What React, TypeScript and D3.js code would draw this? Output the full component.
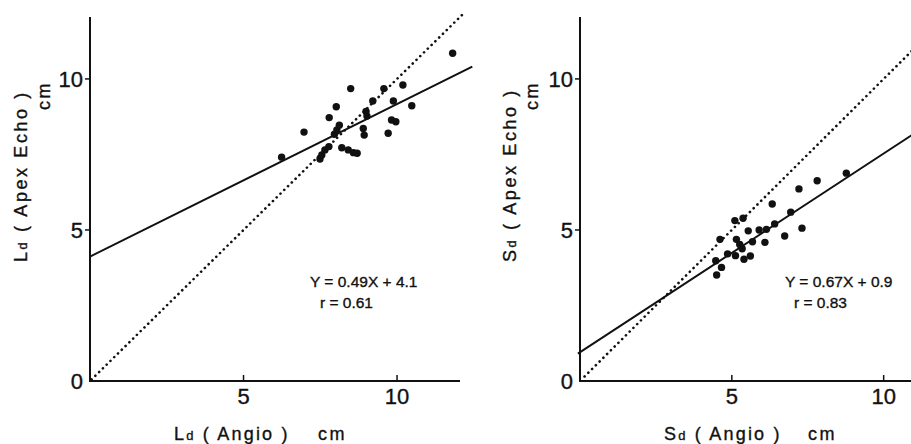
import React from "react";
import * as d3 from "d3";

// ---- Data ----
const leftPoints: [number, number][] = [
  [6.24, 7.41], [6.97, 8.24], [7.49, 7.35], [7.55, 7.48], [7.65, 7.65],
  [7.78, 7.76], [7.79, 8.72], [8.02, 9.08], [7.96, 8.17], [8.04, 8.31],
  [8.12, 8.47], [8.2, 7.72], [8.41, 7.65], [8.58, 7.56], [8.7, 7.54],
  [8.49, 9.68], [8.9, 8.36], [8.93, 8.14], [8.99, 8.92], [9.02, 8.77],
  [9.21, 9.27], [9.57, 9.68], [9.71, 8.2], [9.82, 8.64], [9.96, 8.58],
  [9.88, 9.27], [10.19, 9.8], [10.48, 9.11], [11.81, 10.85],
];
const rightPoints: [number, number][] = [
  [4.47, 3.98], [4.5, 3.51], [4.61, 4.69], [4.66, 3.76], [4.86, 4.21],
  [5.1, 5.31], [5.12, 4.15], [5.15, 4.69], [5.26, 4.52], [5.34, 4.38],
  [5.37, 5.39], [5.4, 4.03], [5.54, 4.97], [5.61, 4.14], [5.68, 4.61],
  [5.9, 5.0], [6.09, 4.59], [6.14, 5.02], [6.33, 5.86], [6.41, 5.2],
  [6.74, 4.8], [6.94, 5.59], [7.21, 6.36], [7.31, 5.06], [7.81, 6.63],
  [8.77, 6.88],
];
// regression lines as drawn: [x0, x1, slope, intercept]
const leftFit = { x0: 0, x1: 12.45, slope: 0.505, intercept: 4.12 };
const rightFit = { x0: -0.07, x1: 11.2, slope: 0.658, intercept: 0.95 };
const leftIdentity = { x0: 0.05, x1: 12.2 };
const rightIdentity = { x0: 0.15, x1: 11.2 };
const yTicks = [0, 5, 10];
const xTicks = [5, 10];
const leftEq = ["Y = 0.49X + 4.1", "r = 0.61"];
const rightEq = ["Y = 0.67X + 0.9", "r = 0.83"];

const W = 911;
const H = 444;
const INK = "#111";
const FONT = "'Liberation Sans', Arial, sans-serif";
const NARROW = "'Liberation Sans Narrow', 'Arial Narrow', 'Liberation Sans', sans-serif";

type PanelProps = {
  points: [number, number][];
  fit: { x0: number; x1: number; slope: number; intercept: number };
  ident: { x0: number; x1: number };
  xRange: [number, number];
  xMax: number;
  eq: string[];
  eqPos: [number, number][];
  letter: string;
  yLabelX: number;
  cmX: number;
};

const textInk = { fill: INK, stroke: INK, strokeWidth: 0.35 };

function Panel(p: PanelProps) {
  const x = d3.scaleLinear().domain([0, p.xMax]).range(p.xRange);
  const y = d3.scaleLinear().domain([0, 12.05]).range([381, 17]);
  const line = d3.line<[number, number]>().x((d) => x(d[0])).y((d) => y(d[1]));
  const fitPts: [number, number][] = [
    [p.fit.x0, p.fit.intercept + p.fit.slope * p.fit.x0],
    [p.fit.x1, p.fit.intercept + p.fit.slope * p.fit.x1],
  ];
  const idPts: [number, number][] = [
    [p.ident.x0, p.ident.x0],
    [p.ident.x1, p.ident.x1],
  ];
  const x0 = x(0);
  return (
    <g>
      {/* axes */}
      <line x1={x0} x2={x0} y1={y(12.05)} y2={y(0) + 1} stroke={INK} strokeWidth={2} />
      <line x1={x0 - 1} x2={x(p.xMax)} y1={y(0)} y2={y(0)} stroke={INK} strokeWidth={2} />
      {yTicks.filter((t) => t > 0).map((t) => (
        <line key={"yt" + t} x1={x0 - 5} x2={x0} y1={y(t)} y2={y(t)} stroke={INK} strokeWidth={1.5} />
      ))}
      {xTicks.map((t) => (
        <line key={"xt" + t} x1={x(t)} x2={x(t)} y1={y(0) - 6} y2={y(0)} stroke={INK} strokeWidth={1.5} />
      ))}
      {yTicks.map((t) => (
        <text key={"yl" + t} x={x0 - 7} y={y(t) + 8} textAnchor="end" fontFamily={NARROW} fontSize={22} {...textInk}>
          {t}
        </text>
      ))}
      {xTicks.map((t) => (
        <text key={"xl" + t} x={x(t)} y={y(0) + 22.5} textAnchor="middle" fontFamily={NARROW} fontSize={22} {...textInk}>
          {t}
        </text>
      ))}
      {/* identity dotted line */}
      <path d={line(idPts) || ""} fill="none" stroke={INK} strokeWidth={2.6} strokeDasharray="0.1 5.2" strokeLinecap="round" />
      {/* regression line */}
      <path d={line(fitPts) || ""} fill="none" stroke={INK} strokeWidth={2} />
      {/* points */}
      {p.points.map((d, i) => (
        <circle key={i} cx={x(d[0])} cy={y(d[1])} r={3.7} fill={INK} />
      ))}
      {/* equation */}
      {p.eq.map((s, i) => (
        <text key={"eq" + i} x={p.eqPos[i][0]} y={p.eqPos[i][1]} fontFamily={FONT} fontSize={15.5} {...textInk}>
          {s}
        </text>
      ))}
      {/* x label */}
      <text x={p.xRange[0] + 84} y={440} fontFamily={FONT} fontSize={18} letterSpacing={2.2} {...textInk}>
        {p.letter}
        <tspan fontSize={13}>d</tspan>
        {" ( Angio )"}
      </text>
      <text x={p.xRange[0] + 228} y={440} fontFamily={FONT} fontSize={18} letterSpacing={2.5} {...textInk}>
        cm
      </text>
      {/* y label */}
      <text transform={`translate(${p.yLabelX},262) rotate(-90)`} fontFamily={FONT} fontSize={18} letterSpacing={2.6} {...textInk}>
        {p.letter}
        <tspan fontSize={13}>d</tspan>
        {" ( Apex  Echo )"}
      </text>
      <text transform={`translate(${p.cmX},110) rotate(-90)`} fontFamily={FONT} fontSize={18} letterSpacing={2.5} {...textInk}>
        cm
      </text>
    </g>
  );
}

export default function App() {
  return (
    <svg width={W} height={H} style={{ position: "absolute", left: 0, top: 0, background: "#fff" }}>
      <rect width={W} height={H} fill="#fff" />
      <Panel
        points={leftPoints}
        fit={leftFit}
        ident={leftIdentity}
        xRange={[90, 460]}
        xMax={12.05}
        eq={leftEq}
        eqPos={[[310, 287], [320, 308]]}
        letter="L"
        yLabelX={27}
        cmX={50}
      />
      <Panel
        points={rightPoints}
        fit={rightFit}
        ident={rightIdentity}
        xRange={[580, 911]}
        xMax={10.9}
        eq={rightEq}
        eqPos={[[785, 287], [794, 308]]}
        letter="S"
        yLabelX={516}
        cmX={538}
      />
    </svg>
  );
}
